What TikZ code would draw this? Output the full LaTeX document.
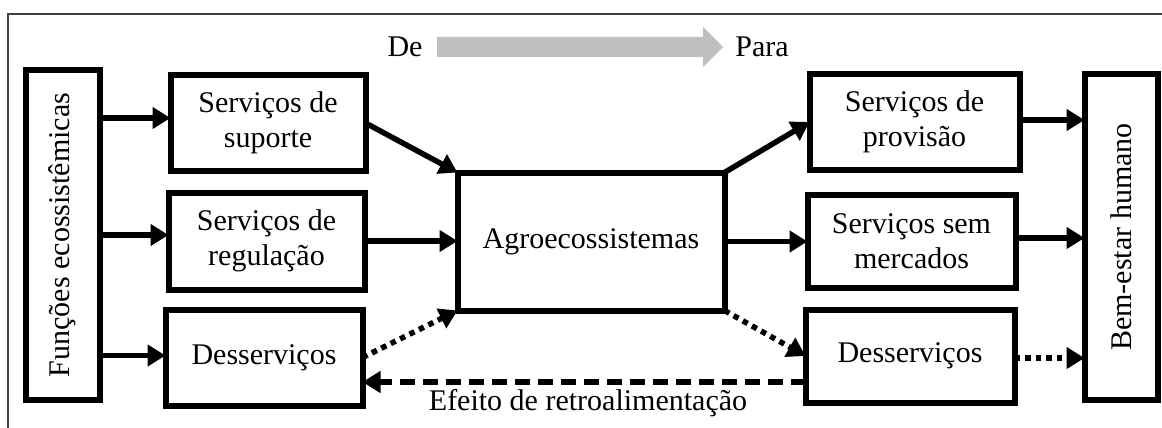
\documentclass[tikz,border=0pt]{standalone}
\usepackage{fontspec}
\setmainfont{Liberation Serif}
\usetikzlibrary{arrows.meta}
\begin{document}
\begin{tikzpicture}[x=1pt,y=-1pt,
  box/.style={draw,line width=6pt,inner sep=0pt,outer sep=0pt,align=center,
    font=\fontsize{30}{35}\selectfont},
  txt/.style={inner sep=0pt,font=\fontsize{30}{35}\selectfont},
  arr/.style={line width=5.5pt,-{Triangle[length=18pt,width=21pt]}},
  dotarr/.style={arr,dash pattern=on 5.5pt off 5pt},
  dasharr/.style={arr,dash pattern=on 15pt off 8pt}]
\useasboundingbox (0,0) rectangle (1162,428);
\draw[line width=1.8pt,black!75] (8,428) -- (8,14) -- (1162,14);
% top legend
\node[txt] (de) at (405,47) {De};
\node[txt] (para) at (762,47) {Para};
\fill[black!25] (437,37) -- (703,37) -- (703,27) -- (723,47) -- (703,67) -- (703,57) -- (437,57) -- cycle;
% boxes
\node[box,minimum width=74pt,minimum height=329pt] (fun) at (62.5,235) {};
\node[txt,rotate=90] (funt) at (fun.center) {Funções ecossistêmicas};
\node[box,minimum width=195pt,minimum height=95pt] (sup) at (268,123) {Serviços de\\suporte};
\node[box,minimum width=196pt,minimum height=97pt] (reg) at (266.5,241) {Serviços de\\regulação};
\node[box,minimum width=197pt,minimum height=96pt] (desl) at (264,357.5) {Desserviços};
\node[box,minimum width=267pt,minimum height=138pt] (agro) at (591,241.5) {Agroecossistemas};
\node[box,minimum width=210pt,minimum height=95pt] (prov) at (914.5,122) {Serviços de\\provisão};
\node[box,minimum width=208pt,minimum height=93pt] (sem) at (911.5,241) {Serviços sem\\mercados};
\node[box,minimum width=209pt,minimum height=93pt] (desr) at (910,356) {Desserviços};
\node[box,minimum width=73pt,minimum height=325pt] (bem) at (1121,237) {};
\node[txt,rotate=90] (bemt) at (bem.center) {Bem-estar humano};
% arrows
\draw[arr] ([yshift=5pt]sup.west -| fun.east) -- ([yshift=5pt]sup.west);
\draw[arr] ([yshift=6pt]reg.west -| fun.east) -- ([yshift=6pt]reg.west);
\draw[arr] ([yshift=2pt]desl.west -| fun.east) -- ([yshift=2pt]desl.west);
\draw[arr] (sup.east) -- (agro.north west);
\draw[arr] (reg.east) -- (reg.east -| agro.west);
\draw[dotarr] (desl.east) -- (agro.south west);
\draw[arr] (agro.north east) -- (prov.west);
\draw[arr] (agro.east) -- (agro.east -| sem.west);
\draw[dotarr] (agro.south east) -- (desr.west);
\draw[arr] ([yshift=2pt]prov.east) -- ([yshift=2pt]prov.east -| bem.west);
\draw[arr] ([yshift=3pt]sem.east) -- ([yshift=3pt]sem.east -| bem.west);
\draw[dotarr] ([yshift=-2pt]desr.east) -- ([yshift=-2pt]desr.east -| bem.west);
\draw[dasharr] ([yshift=-26pt]desr.west) -- ([yshift=-26pt]desr.west -| desl.east);
\node[txt] (fb) at (588,403) {Efeito de retroalimentação};
\end{tikzpicture}
\end{document}
